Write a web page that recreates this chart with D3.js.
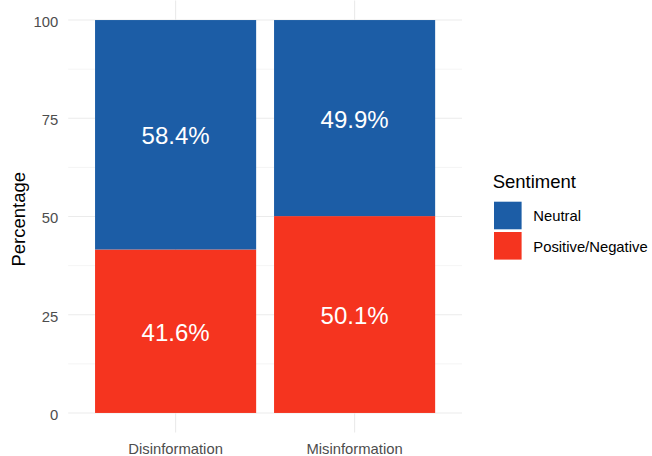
<!DOCTYPE html>
<html><head><meta charset="utf-8">
<script src="https://cdn.jsdelivr.net/npm/d3@7"></script>
<style>body{margin:0;background:#fff}svg{display:block}text{font-family:"Liberation Sans",Arial,sans-serif}</style>
</head><body>
<svg id="c" width="652" height="456"></svg>
<script>
const categories = ["Disinformation", "Misinformation"];
const sentiments = ["Neutral", "Positive/Negative"];
const positiveNegative = [41.6, 50.1];
const neutral = [58.4, 49.9];
const yTicks = [0, 25, 50, 75, 100];
const yMinor = [12.5, 37.5, 62.5, 87.5];
const colors = ["#1c5da6", "#f5341f"];

const svg = d3.select("#c");
const L = 68.2, R = 462, T = 0.4, B = 432.6;
// ggplot-style discrete axis: centers at 1,2 within [0.4,2.6]
const xc = d3.scaleLinear().domain([0.4, 2.6]).range([L, R]);
const pos = d3.scalePoint().domain(categories).range([xc(1), xc(2)]);
const bw = xc(1.45) - xc(0.55);
const y = d3.scaleLinear().domain([-5, 105]).range([B, T]);

const g = svg.append("g");
g.selectAll(".ym").data(yMinor).enter().append("line")
  .attr("x1", L).attr("x2", R).attr("y1", d => y(d)).attr("y2", d => y(d))
  .attr("stroke", "#ebebeb").attr("stroke-width", 0.55);
g.selectAll(".yM").data(yTicks).enter().append("line")
  .attr("x1", L).attr("x2", R).attr("y1", d => y(d)).attr("y2", d => y(d))
  .attr("stroke", "#ebebeb").attr("stroke-width", 1.1);
g.selectAll(".xM").data(categories).enter().append("line")
  .attr("x1", d => pos(d)).attr("x2", d => pos(d)).attr("y1", T).attr("y2", B)
  .attr("stroke", "#ebebeb").attr("stroke-width", 1.1);

const rows = categories.map((c, i) => ({cat: c, "Positive/Negative": positiveNegative[i], "Neutral": neutral[i]}));
const stack = d3.stack().keys(["Positive/Negative", "Neutral"]);
const series = stack(rows);
series.forEach(s => {
  const col = colors[sentiments.indexOf(s.key)];
  g.selectAll(null).data(s).enter().append("rect")
    .attr("x", d => pos(d.data.cat) - bw / 2).attr("width", bw)
    .attr("y", d => y(d[1])).attr("height", d => y(d[0]) - y(d[1]))
    .attr("fill", col);
});
series.forEach(s => {
  g.selectAll(null).data(s).enter().append("text")
    .attr("x", d => pos(d.data.cat)).attr("y", d => y((d[0] + d[1]) / 2) + 1)
    .attr("dy", "0.358em").attr("text-anchor", "middle")
    .attr("fill", "#fff").attr("font-size", 24)
    .text(d => (d[1] - d[0]).toFixed(1) + "%");
});

g.selectAll(".yl").data(yTicks).enter().append("text")
  .attr("x", 58.3).attr("y", d => y(d) + 1.5).attr("dy", "0.358em").attr("text-anchor", "end")
  .attr("fill", "#4d4d4d").attr("font-size", 14.8).text(d => d);
g.selectAll(".xl").data(categories).enter().append("text")
  .attr("x", d => pos(d)).attr("y", 454.3).attr("text-anchor", "middle")
  .attr("fill", "#4d4d4d").attr("font-size", 14.8).text(d => d);
svg.append("text").attr("transform", "translate(24.5,219.3) rotate(-90)")
  .attr("text-anchor", "middle").attr("fill", "#000").attr("font-size", 18.5).text("Percentage");

const lg = svg.append("g");
lg.append("text").attr("x", 492.7).attr("y", 188.3).attr("font-size", 18.5).attr("fill", "#000").text("Sentiment");
sentiments.forEach((s, i) => {
  lg.append("rect").attr("x", 494).attr("y", 201.7 + i * 30.3).attr("width", 27.6).attr("height", 27.6).attr("fill", colors[i]);
  lg.append("text").attr("x", 533.3).attr("y", 216 + i * 30.3).attr("dy", "0.358em").attr("font-size", 14.8).attr("fill", "#000").text(s);
});
</script>
</body></html>
